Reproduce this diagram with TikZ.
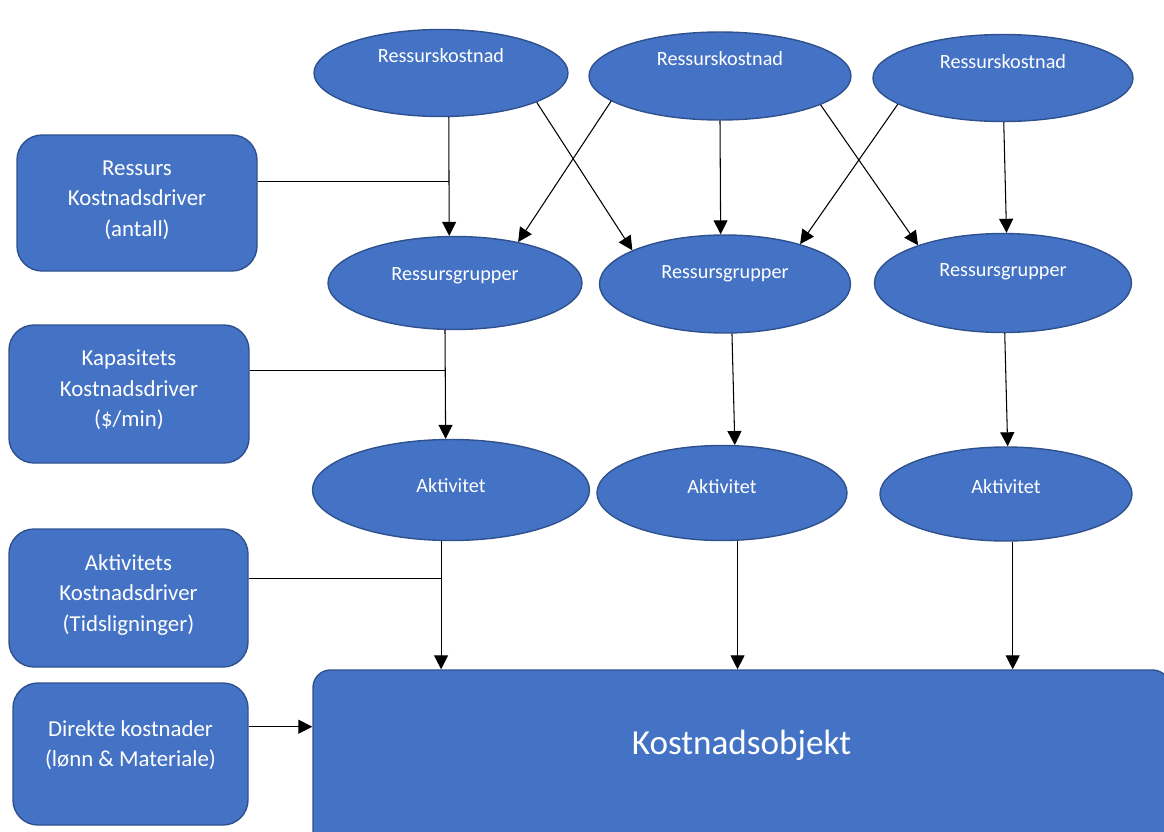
\documentclass[tikz,border=0pt]{standalone}
\usepackage{fontspec}
\setmainfont{Carlito}
\usetikzlibrary{shapes.geometric,arrows.meta}
\definecolor{kblue}{HTML}{4472C4}
\definecolor{kedge}{HTML}{2F528F}
\tikzset{
 oval/.style={ellipse,draw=kedge,line width=0.8pt,fill=kblue,inner sep=0pt},
 driver/.style={rectangle,rounded corners=0.5cm,draw=kedge,line width=0.8pt,fill=kblue,inner sep=0pt},
 ovaltxt/.style={text=white,font=\fontsize{11.5}{14}\selectfont},
 drvtxt/.style={text=white,align=center,font=\fontsize{13}{17.3}\selectfont},
 arr/.style={-{Triangle[width=0.28cm,length=0.28cm]},line width=0.6pt},
 lnk/.style={line width=0.6pt}
}
\newcommand{\ovalnode}[7]{% navn, x, y, bredde, hoyde, loft tekst, tekst
\node[oval,minimum width=#4*0.02cm,minimum height=#5*0.02cm,
 label={[ovaltxt,yshift=#6*0.02cm]center:#7}] (#1) at (#2,#3) {};
}
\newcommand{\driverbox}[7]{% navn, x, y, bredde, hoyde, loft tekst, tekst
\node[driver,minimum width=#4*0.02cm,minimum height=#5*0.02cm,
 label={[drvtxt,yshift=#6*0.02cm]center:#7}] (#1) at (#2,#3) {};
}

\begin{document}
\begin{tikzpicture}[x=0.02cm,y=-0.02cm]
\clip (0,0) rectangle (1164,832);

\ovalnode{rk1}{441}{73}{254}{87}{17}{Ressurskostnad}
\ovalnode{rk2}{720}{76}{262}{88}{17}{Ressurskostnad}
\ovalnode{rk3}{1003}{78}{260}{87}{16}{Ressurskostnad}

\ovalnode{rg1}{455}{283}{254}{93}{7}{Ressursgrupper}
\ovalnode{rg2}{725}{284}{251}{98}{10}{Ressursgrupper}
\ovalnode{rg3}{1003}{283}{257}{99}{11}{Ressursgrupper}

\ovalnode{ak1}{451}{490}{277}{101}{4}{Aktivitet}
\ovalnode{ak2}{722}{493}{250}{95}{6}{Aktivitet}
\ovalnode{ak3}{1006}{494}{252}{94}{7}{Aktivitet}

\driverbox{rkd}{137}{203}{240}{136}{3}{Ressurs\\Kostnadsdriver\\(antall)}
\driverbox{kkd}{129}{394}{240}{138}{4}{Kapasitets\\Kostnadsdriver\\(\$/min)}
\driverbox{akd}{128.5}{598}{239}{138}{3}{Aktivitets\\Kostnadsdriver\\(Tidsligninger)}
\driverbox{dk}{130.5}{754}{235}{142}{9}{Direkte kostnader\\(lønn \& Materiale)}

\node[driver,rounded corners=0.35cm,minimum width=857*0.02cm,minimum height=190*0.02cm,
 label={[text=white,font=\fontsize{20}{24}\selectfont,yshift=20*0.02cm]center:Kostnadsobjekt}] (ko) at (741.5,765) {};

\draw[arr] (rk1.-80) -- coordinate[pos=0.54] (j1) (rg1.97);
\draw[arr] (rk1.-17) -- (rg2.160);
\draw[arr] (rk2.193) -- (rg1.33);
\draw[arr] (rk2.-90) -- (rg2.95);
\draw[arr] (rk2.-16) -- (rg3.156);
\draw[arr] (rk3.194) -- (rg2.28);
\draw[arr] (rk3.-89) -- (rg3.86);

\draw[arr] (rg1.-102) -- coordinate[pos=0.32] (j2) (ak1.96);
\draw[arr] (rg2.-82) -- (ak2.75);
\draw[arr] (rg3.-88) -- (ak3.88);

\draw[arr] (ak1.-101) -- coordinate[pos=0.29] (j3) (ak1.-101 |- ko.north);
\draw[arr] (ak2.-72) -- (ak2.-72 |- ko.north);
\draw[arr] (ak3.-82) -- (ak3.-82 |- ko.north);
\draw[arr] (dk.13) -- (dk.13 -| ko.west);

\draw[lnk] (rkd.10) -- (rkd.10 -| j1);
\draw[lnk] (kkd.11) -- (kkd.11 -| j2);
\draw[lnk] (akd.9) -- (akd.9 -| j3);
\end{tikzpicture}
\end{document}
